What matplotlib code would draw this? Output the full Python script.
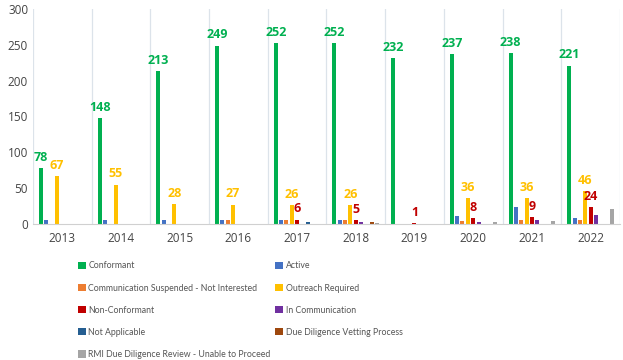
import matplotlib.pyplot as plt
import numpy as np

plt.rcParams['font.family'] = ['Open Sans', 'DejaVu Sans']

years = ['2013', '2014', '2015', '2016', '2017', '2018', '2019', '2020', '2021', '2022']

conformant = [78, 148, 213, 249, 252, 252, 232, 237, 238, 221]
active = [5, 5, 5, 5, 5, 5, 0, 11, 24, 8]
comm_suspended = [0, 0, 0, 5, 6, 5, 0, 4, 5, 6]
outreach = [67, 55, 28, 27, 26, 26, 0, 36, 36, 46]
non_conformant = [0, 0, 0, 0, 6, 5, 1, 8, 9, 24]
in_communication = [0, 0, 0, 0, 0, 3, 0, 2, 5, 13]
not_applicable = [0, 0, 0, 0, 2, 0, 0, 0, 0, 0]
due_diligence = [0, 0, 0, 0, 0, 2, 0, 0, 0, 0]
rmi_review = [0, 0, 0, 0, 0, 1, 0, 2, 4, 21]

series = [
    ('Conformant', conformant, '#00B050'),
    ('Active', active, '#4472C4'),
    ('Communication Suspended - Not Interested', comm_suspended, '#ED7D31'),
    ('Outreach Required', outreach, '#FFC000'),
    ('Non-Conformant', non_conformant, '#C00000'),
    ('In Communication', in_communication, '#7030A0'),
    ('Not Applicable', not_applicable, '#255E91'),
    ('Due Diligence Vetting Process', due_diligence, '#9E480E'),
    ('RMI Due Diligence Review - Unable to Proceed', rmi_review, '#A5A5A5'),
]
# series whose values get labels, and from which year on
labelled = {'Conformant': 0, 'Outreach Required': 0, 'Non-Conformant': 4}

fig = plt.figure(figsize=(6.23, 3.6), dpi=100)
ax = fig.add_axes([0.053, 0.378, 0.942, 0.597])

x = np.arange(len(years))
slot = 1 / 11
width = slot * 0.75
for i, (name, vals, col) in enumerate(series):
    pos = x + (i - 4) * slot
    ax.bar(pos, vals, width, color=col, label=name)
    if name in labelled:
        for j, v in enumerate(vals):
            if v > 0 and j >= labelled[name]:
                ax.annotate(str(v), (pos[j], v), xytext=(0, 3), textcoords='offset points',
                            ha='center', va='bottom', color=col, fontsize=9,
                            fontweight='bold')

ax.set_xlim(-0.5, len(years) - 0.5)
ax.set_ylim(0, 300)
ax.set_yticks(range(0, 301, 50))
ax.set_xticks(x)
ax.set_xticklabels(years)
ax.set_xticks(np.arange(-0.5, len(years), 1), minor=True)
ax.grid(axis='x', which='minor', color='#DCE3EA', linewidth=0.9)
ax.tick_params(axis='both', which='both', length=0, labelsize=8.5, colors='#444444')
ax.tick_params(axis='x', pad=6)
for s in ['top', 'right', 'left']:
    ax.spines[s].set_visible(False)
ax.spines['bottom'].set_color('#D0D0D0')

handles, labels = ax.get_legend_handles_labels()
# row-wise ordering for two columns
order = [0, 2, 4, 6, 8, 1, 3, 5, 7]
fig.legend([handles[k] for k in order], [labels[k] for k in order], ncol=2,
           loc='upper left', bbox_to_anchor=(0.118, 0.286), frameon=False,
           prop={'family': ['Lato', 'DejaVu Sans'], 'size': 6.3},
           labelcolor='#555555', handlelength=0.9, handleheight=0.9,
           handletextpad=0.3, columnspacing=0.5, labelspacing=1.5, borderpad=0)

fig.savefig('out.png', dpi=100)
